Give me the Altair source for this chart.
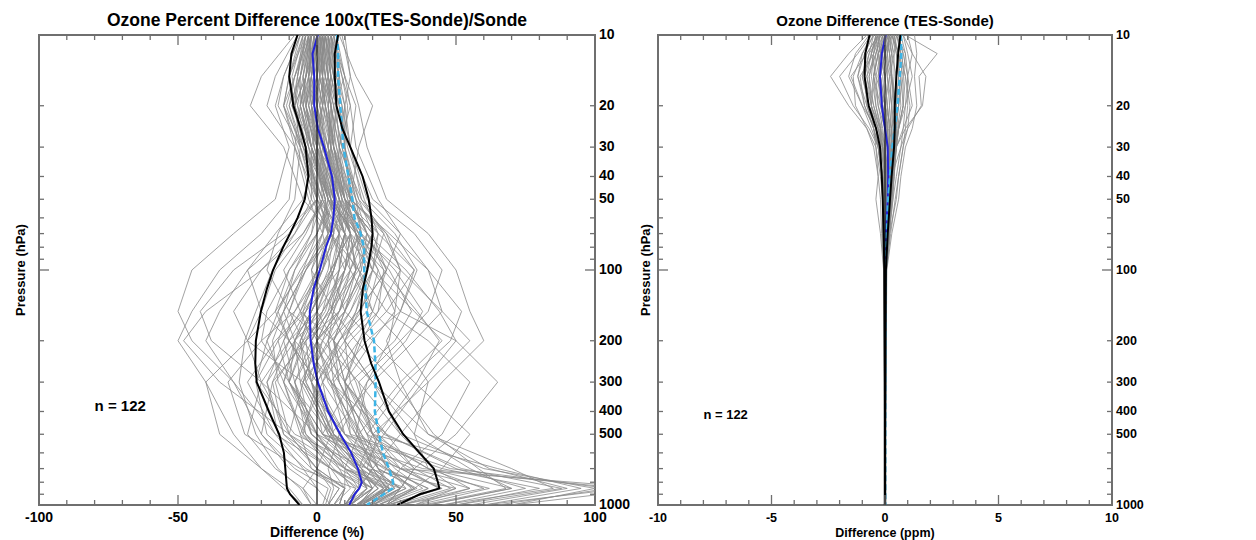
import altair as alt
import pandas as pd

# ---------------- Left panel: percent difference ----------------
PCT_LEVELS = [10, 15, 20, 30, 50, 70, 100, 150, 200, 300, 500, 700, 850, 1000]
PCT_PROFILES = [
    [2, -3, -5, 0, 8, 12, 10, 5, 0, -5, 5, 20, 25, 15],
    [-5, -10, -8, -2, 3, -5, -15, -20, -25, -20, -10, 0, 5, 3],
    [6, 8, 5, 8, 15, 25, 30, 28, 20, 10, 15, 30, 45, 25],
    [-3, -8, -12, -5, 0, -10, -25, -35, -40, -30, -15, -5, 0, 5],
    [10, 12, 10, 12, 20, 35, 45, 40, 30, 15, 20, 40, 60, 30],
    [0, 2, 3, 5, 5, 0, -5, -10, -5, 5, 15, 20, 15, 10],
    [-8, -20, -24, -12, -5, 5, 10, 5, -5, -15, -10, 5, 10, 8],
    [4, 5, 8, 10, 12, 8, 0, -8, -12, -8, 0, 10, 20, 15],
    [-2, -5, -3, 2, 10, 20, 25, 15, 10, 20, 35, 55, 70, 40],
    [3, 0, -2, 0, 2, -2, -10, -18, -20, -10, 5, 15, 18, 12],
    [8, 14, 20, 15, 12, 5, -5, -15, -25, -40, -35, -20, -10, -5],
    [-6, -12, -15, -10, -15, -30, -45, -50, -45, -30, -20, -10, 0, 0],
    [1, -2, -5, -2, 5, 10, 15, 25, 40, 55, 45, 30, 25, 20],
    [5, 10, 12, 8, 10, 15, 20, 30, 50, 65, 50, 35, 30, 25],
    [-4, -6, -8, -5, 2, 8, 5, 0, -5, -10, 0, 25, 40, 30],
    [2, 4, 2, 0, 0, 5, 15, 20, 15, 5, 10, 45, 80, 50],
    [0, -1, 0, 3, 8, 15, 10, 0, -10, -20, -25, -15, -5, 0],
    [-1, -4, -6, -3, 3, 5, 0, -5, 0, 10, 25, 35, 30, 20],
    [7, 10, 6, 4, 6, 10, 8, 5, 10, 20, 30, 60, 100, 70],
    [-7, -15, -18, -8, 0, 10, 20, 35, 45, 30, 15, 10, 10, 8],
    [3, 6, 9, 12, 18, 30, 40, 45, 35, 20, 5, 10, 25, 20],
    [-3, -2, 0, 2, 0, -8, -20, -30, -25, -5, 10, 20, 25, 15],
    [5, 3, 0, 2, 8, 12, 5, -5, -15, -25, -15, 5, 20, 15],
    [-2, -8, -10, -5, 5, 15, 30, 45, 55, 40, 20, 15, 15, 10],
    [1, 2, 4, 6, 10, 20, 18, 10, 0, -5, 5, 30, 55, 35],
    [-5, -7, -5, 0, 12, 25, 35, 25, 15, 10, 20, 25, 20, 10],
    [9, 12, 15, 18, 25, 40, 50, 55, 60, 45, 30, 20, 15, 12],
    [0, -3, -6, -8, -10, -20, -35, -45, -50, -40, -30, -20, -12, -5],
    [-1, 0, 2, 0, -5, -15, -25, -20, -10, 0, 10, 25, 35, 20],
    [4, 7, 10, 10, 15, 20, 15, 5, 0, 5, 25, 50, 75, 45],
    [-4, -10, -12, -8, -3, 2, 5, 10, 20, 35, 55, 45, 35, 25],
    [2, 0, -3, 1, 6, 0, -10, -15, -10, 0, 5, 0, -5, -2],
    [6, 9, 12, 14, 22, 30, 25, 15, 5, -5, -10, 0, 10, 8],
    [-6, -12, -14, -6, 2, -5, -20, -40, -48, -35, -10, 10, 30, 25],
    [0, 1, 3, 7, 12, 18, 25, 20, 10, 0, -5, 5, 15, 10],
    [3, 5, 2, -2, -2, 5, 12, 20, 30, 40, 35, 40, 50, 35],
    [-3, -5, -4, 0, 4, 0, -8, -12, -8, 5, 20, 65, 95, 60],
    [5, 8, 7, 6, 10, 22, 35, 30, 25, 30, 40, 70, 85, 45],
    [-2, -3, -1, 4, 10, 12, 5, -2, -8, -12, -5, 10, 15, 10],
    [1, -4, -8, -4, 0, -12, -30, -42, -38, -20, 0, 15, 22, 15],
    [2, 3, 6, 9, 14, 18, 12, 2, -8, -18, -12, 5, 18, 12],
    [-3, -6, -10, -6, -1, 4, 0, -6, -2, 8, 18, 28, 38, 22],
    [4, 2, -2, -1, 4, 14, 22, 18, 8, -2, 2, 18, 30, 20],
    [0, -4, -8, -6, -8, -14, -18, -10, 2, 15, 30, 42, 55, 30],
    [6, 10, 14, 12, 16, 24, 20, 12, 6, 10, 22, 35, 48, 28],
    [-5, -9, -7, -2, 4, 2, -6, -14, -18, -12, 0, 8, 12, 6],
    [1, 4, 7, 5, 2, -4, -12, -6, 6, 20, 40, 62, 90, 55],
    [3, 1, 0, 4, 9, 16, 28, 38, 32, 18, 8, 4, 6, 4],
    [-2, -6, -9, -4, 1, 8, 14, 8, -4, -16, -20, -8, 4, 2],
    [5, 6, 4, 6, 12, 26, 40, 52, 48, 32, 18, 22, 35, 25],
    [1, -2, -4, 1, 7, 10, 8, 3, -4, -10, 2, 38, 110, 60],
    [-4, -7, -9, -3, 4, 14, 26, 34, 28, 12, 2, 30, 120, 70],
    [3, 6, 4, 5, 9, 6, -4, -12, -18, -22, -8, 18, 50, 30],
    [-1, 2, 5, 8, 16, 28, 36, 30, 18, 6, 12, 48, 105, 65],
    [6, 4, 1, 3, 10, 20, 14, 4, -2, 2, 14, 26, 32, 18],
    [-6, -10, -12, -7, -2, -8, -16, -22, -26, -28, -22, -14, -6, -2],
    [2, 0, -2, 2, 8, 4, -2, 6, 14, 28, 42, 58, 68, 38],
    [0, 3, 5, 4, 6, 12, 24, 36, 44, 36, 22, 18, 24, 16],
    [-3, -1, 1, 5, 12, 24, 30, 22, 12, 2, -6, -2, 10, 6],
    [4, 8, 10, 8, 6, 2, -2, 0, 6, 14, 20, 32, 44, 26],
    [-2, -4, -6, -2, 6, 18, 32, 44, 50, 38, 24, 16, 20, 12],
    [5, 9, 11, 10, 14, 16, 8, -4, -14, -22, -18, -4, 8, 4],
    [-1, -3, -2, 3, 9, 14, 18, 12, 4, -4, 6, 24, 40, 24],
    [2, 5, 3, 1, 4, 10, 6, -2, -6, -2, 10, 34, 62, 36],
    [-4, -8, -11, -6, 0, 6, 2, -8, -20, -32, -26, -6, 14, 10],
    [3, 2, 2, 6, 14, 22, 18, 8, 0, 4, 16, 22, 26, 14],
    [1, 3, 5, 6, 9, 12, 10, 6, 2, -2, 4, 14, 22, 14],
    [-2, -5, -7, -4, 2, 6, 4, -2, -6, -4, 6, 18, 28, 18],
    [3, 4, 6, 9, 13, 16, 12, 6, 4, 8, 16, 26, 34, 22],
    [0, -2, -3, 0, 5, 8, 6, 0, -6, -12, -6, 8, 20, 12],
    [-1, 1, 3, 6, 10, 14, 20, 16, 8, 0, 8, 20, 30, 18],
    [2, -1, -4, -2, 3, 4, -4, -12, -16, -14, -4, 6, 14, 10],
    [4, 6, 8, 11, 17, 22, 20, 14, 10, 12, 20, 30, 44, 26],
    [-3, -4, -6, -3, 0, -2, -8, -14, -10, -2, 8, 14, 18, 12],
    [1, 2, 1, 4, 8, 14, 16, 10, 2, -6, -2, 12, 26, 16],
    [-1, -3, -4, -1, 4, 10, 12, 8, 4, 6, 14, 22, 28, 16],
    [5, 7, 9, 10, 12, 10, 6, 2, -2, 0, 8, 16, 22, 14],
    [-4, -7, -8, -4, 1, 4, 2, -4, -10, -16, -12, 0, 10, 6],
    [2, 4, 5, 7, 11, 18, 24, 22, 16, 10, 12, 22, 36, 22],
    [0, 1, -1, 1, 6, 10, 6, -2, -8, -6, 4, 16, 26, 16],
    [3, 1, -2, 0, 6, 12, 14, 8, 0, -8, -4, 10, 24, 14],
    [-2, -4, -5, -2, 3, 2, -4, -10, -14, -10, 2, 14, 24, 16],
    [1, 0, 2, 5, 10, 16, 22, 28, 26, 18, 14, 20, 30, 18],
    [-3, -6, -6, -2, 4, 8, 8, 4, -2, -8, -2, 14, 32, 20],
    [4, 5, 4, 6, 11, 14, 10, 2, -4, -2, 6, 18, 26, 16],
    [0, -2, -1, 2, 7, 12, 14, 10, 6, 8, 18, 40, 70, 40],
    [2, 2, 3, 5, 8, 8, 2, -6, -12, -18, -14, -2, 8, 4],
    [-1, -2, -4, -1, 5, 12, 18, 14, 8, 2, 6, 16, 20, 12],
    [3, 5, 7, 8, 12, 18, 16, 10, 6, 10, 24, 52, 88, 50],
    [-2, -3, -2, 1, 5, 6, 2, -4, -8, -10, -2, 12, 18, 10],
]
PCT_STAT_LEVELS = [10, 12, 15, 20, 25, 30, 40, 50, 60, 70, 80, 100, 120, 150,
                   200, 250, 300, 400, 500, 600, 700, 800, 850, 900, 1000]
PCT_MEAN = [0.3, -1.6, -1.0, -1.0, 0.3, 2.5, 5.4, 6.4, 5.9, 5.0, 3.2, 1.0, -1.2, -2.6,
            -2.3, -1.2, 0.3, 4.0, 8.4, 12.3, 14.7, 16.1, 15.2, 13.5, 11.6]
PCT_LOW = [-7.0, -9.2, -10.0, -8.5, -5.9, -4.1, -3.1, -4.4, -7.0, -9.7, -12.2, -15.8, -18.0, -20.2,
           -22.0, -22.2, -21.7, -17.3, -13.6, -11.9, -11.4, -11.0, -10.8, -9.7, -6.3]
PCT_HIGH = [7.6, 6.4, 6.4, 7.0, 9.1, 12.0, 16.4, 18.6, 19.6, 20.0, 19.6, 18.1, 16.5, 15.7,
            17.1, 19.5, 22.3, 25.9, 31.0, 36.9, 42.0, 43.5, 44.0, 37.0, 28.9]
PCT_RMS = [7.2, 7.6, 7.6, 8.4, 9.0, 9.5, 11.3, 12.7, 13.5, 15.7, 16.9, 17.0, 17.4, 17.9,
           20.5, 21.0, 21.1, 20.8, 22.3, 23.7, 25.9, 27.4, 27.0, 24.0, 17.9]

# ---------------- Right panel: ppm difference ----------------
PPM_LEVELS = [10, 12, 15, 20, 25, 30, 40, 50, 70, 100, 1000]
PPM_PROFILES = [
    [0.2, -0.3, -0.5, -0.3, 0.0, 0.1, 0.15, 0.1, 0.05, 0.01, 0.0],
    [-0.5, -0.9, -1.2, -0.9, -0.5, -0.3, -0.15, -0.1, -0.05, -0.01, 0.0],
    [0.6, 0.7, 0.5, 0.5, 0.5, 0.5, 0.4, 0.3, 0.12, 0.03, 0.0],
    [-0.3, -0.8, -1.5, -1.0, -0.6, -0.3, -0.1, -0.05, -0.03, -0.01, 0.0],
    [1.0, 1.2, 1.0, 0.9, 0.8, 0.7, 0.5, 0.35, 0.15, 0.04, 0.0],
    [0.0, 0.2, 0.3, 0.4, 0.3, 0.25, 0.2, 0.1, 0.03, 0.0, 0.0],
    [-0.8, -1.6, -2.4, -1.6, -0.8, -0.4, -0.2, -0.1, 0.05, 0.02, 0.0],
    [0.4, 0.5, 0.7, 0.8, 0.6, 0.5, 0.3, 0.2, 0.05, 0.0, 0.0],
    [-0.2, -0.4, -0.5, -0.2, 0.1, 0.15, 0.3, 0.3, 0.15, 0.04, 0.0],
    [0.3, 0.0, -0.2, -0.1, 0.0, 0.0, 0.05, 0.05, 0.0, -0.01, 0.0],
    [0.9, 2.3, 1.5, 1.6, 1.0, 0.7, 0.3, 0.15, 0.05, -0.01, 0.0],
    [-0.6, -1.0, -1.4, -1.3, -0.8, -0.5, -0.3, -0.4, -0.2, -0.06, 0.0],
    [0.1, -0.2, -0.4, -0.3, -0.1, 0.0, 0.1, 0.15, 0.1, 0.02, 0.0],
    [0.5, 0.9, 1.0, 1.2, 0.8, 0.5, 0.35, 0.25, 0.12, 0.03, 0.0],
    [-0.4, -0.5, -0.7, -0.6, -0.3, -0.1, 0.0, 0.05, 0.08, 0.02, 0.0],
    [0.2, 0.3, 0.3, 0.2, 0.1, 0.0, 0.0, 0.02, 0.05, 0.03, 0.0],
    [0.0, -0.1, 0.0, 0.1, 0.2, 0.2, 0.25, 0.2, 0.1, 0.02, 0.0],
    [-0.1, -0.3, -0.5, -0.4, -0.2, -0.1, 0.05, 0.1, 0.05, 0.0, 0.0],
    [0.7, 0.9, 0.8, 0.6, 0.4, 0.3, 0.2, 0.15, 0.08, 0.02, 0.0],
    [-0.7, -1.3, -1.6, -1.0, -0.4, -0.1, 0.1, 0.15, 0.15, 0.05, 0.0],
    [0.3, 0.6, 0.9, 1.1, 1.0, 0.8, 0.6, 0.45, 0.25, 0.06, 0.0],
    [-0.3, -0.2, 0.0, 0.1, 0.05, 0.0, -0.05, -0.1, -0.08, -0.03, 0.0],
    [0.4, 0.3, 0.0, 0.1, 0.2, 0.2, 0.2, 0.15, 0.08, 0.01, 0.0],
    [-0.2, -0.7, -0.9, -0.6, -0.2, 0.0, 0.15, 0.25, 0.2, 0.07, 0.0],
    [0.1, 0.2, 0.3, 0.4, 0.45, 0.4, 0.35, 0.3, 0.15, 0.03, 0.0],
    [-0.4, -0.6, -0.4, 0.0, 0.3, 0.4, 0.4, 0.3, 0.2, 0.05, 0.0],
    [1.3, 1.4, 1.3, 1.4, 1.2, 0.9, 0.7, 0.6, 0.3, 0.08, 0.0],
    [0.0, -0.3, -0.5, -0.6, -0.5, -0.4, -0.3, -0.2, -0.15, -0.05, 0.0],
    [-0.1, 0.0, 0.2, 0.0, -0.2, -0.2, -0.15, -0.1, -0.1, -0.04, 0.0],
    [0.3, 0.6, 0.8, 0.8, 0.6, 0.5, 0.35, 0.25, 0.1, 0.02, 0.0],
    [-0.3, -0.8, -1.0, -0.7, -0.4, -0.3, -0.1, 0.0, 0.02, 0.01, 0.0],
    [0.2, 0.0, -0.2, 0.0, 0.1, 0.1, 0.15, 0.0, -0.05, -0.02, 0.0],
    [0.5, 0.8, 1.0, 1.0, 0.9, 0.8, 0.6, 0.5, 0.2, 0.05, 0.0],
    [-0.5, -1.0, -1.2, -0.8, -0.4, -0.2, 0.0, -0.1, -0.1, -0.04, 0.0],
    [0.0, 0.1, 0.25, 0.5, 0.6, 0.5, 0.4, 0.35, 0.2, 0.05, 0.0],
    [0.8, 1.2, 1.8, 1.65, 0.9, 0.5, 0.3, 0.2, 0.1, 0.02, 0.0],
    [0.1, 0.3, 0.5, 0.6, 0.5, 0.45, 0.35, 0.2, 0.1, 0.02, 0.0],
    [-0.2, -0.4, -0.8, -0.5, -0.2, -0.05, 0.05, 0.08, 0.05, 0.01, 0.0],
    [0.5, 0.4, 0.2, 0.3, 0.4, 0.35, 0.25, 0.2, 0.1, 0.02, 0.0],
    [-0.6, -1.2, -2.0, -1.4, -0.7, -0.3, -0.1, 0.0, 0.0, 0.0, 0.0],
    [0.2, 0.1, 0.1, 0.3, 0.3, 0.3, 0.2, 0.12, 0.06, 0.01, 0.0],
    [-0.1, -0.2, -0.3, -0.1, 0.1, 0.2, 0.2, 0.15, 0.05, 0.01, 0.0],
    [0.8, 1.0, 1.2, 0.9, 0.6, 0.4, 0.25, 0.15, 0.06, 0.01, 0.0],
    [-0.4, -0.6, -0.9, -0.8, -0.5, -0.3, -0.15, -0.05, 0.0, 0.0, 0.0],
    [0.0, 0.0, 0.1, 0.2, 0.25, 0.3, 0.3, 0.25, 0.15, 0.03, 0.0],
    [0.3, 0.5, 0.6, 0.5, 0.3, 0.15, 0.1, 0.05, 0.02, 0.0, 0.0],
    [0.1, -0.1, -0.2, -0.1, 0.05, 0.1, 0.12, 0.1, 0.05, 0.01, 0.0],
    [-0.3, -0.5, -0.6, -0.4, -0.15, 0.0, 0.08, 0.08, 0.04, 0.01, 0.0],
    [0.4, 0.6, 0.6, 0.7, 0.55, 0.45, 0.3, 0.2, 0.08, 0.02, 0.0],
    [-0.1, -0.4, -0.7, -0.5, -0.25, -0.1, 0.0, 0.05, 0.03, 0.01, 0.0],
    [0.2, 0.4, 0.4, 0.3, 0.2, 0.15, 0.15, 0.12, 0.06, 0.01, 0.0],
    [-0.5, -0.7, -1.0, -0.7, -0.3, -0.15, -0.05, 0.0, 0.02, 0.0, 0.0],
    [0.6, 0.8, 0.7, 0.6, 0.45, 0.35, 0.25, 0.18, 0.08, 0.02, 0.0],
    [0.0, -0.2, -0.3, -0.2, 0.0, 0.1, 0.15, 0.12, 0.06, 0.01, 0.0],
    [0.2, 0.1, -0.1, 0.0, 0.15, 0.25, 0.25, 0.2, 0.1, 0.02, 0.0],
    [-0.2, -0.5, -1.1, -0.9, -0.5, -0.25, -0.1, -0.05, 0.0, 0.0, 0.0],
    [0.5, 0.7, 0.9, 0.8, 0.6, 0.45, 0.3, 0.2, 0.1, 0.02, 0.0],
    [-0.4, -0.3, -0.2, 0.0, 0.1, 0.1, 0.1, 0.08, 0.04, 0.01, 0.0],
    [0.3, 0.2, 0.3, 0.5, 0.5, 0.4, 0.3, 0.2, 0.1, 0.02, 0.0],
    [-0.3, -0.6, -0.8, -0.6, -0.3, -0.1, 0.0, 0.02, 0.02, 0.0, 0.0],
]
PPM_STAT_LEVELS = [10, 12, 15, 20, 25, 30, 40, 50, 70, 100, 150, 200, 300, 500, 1000]
PPM_MEAN = [0.03, -0.14, -0.22, -0.14, 0.0, 0.12, 0.14, 0.12, 0.04, 0.0, 0.0, 0.0, 0.0, 0.0, 0.0]
PPM_LOW = [-0.68, -0.87, -0.9, -0.72, -0.39, -0.22, -0.14, -0.1, -0.06, -0.03, -0.02, -0.015, -0.01, -0.01, -0.01]
PPM_HIGH = [0.68, 0.58, 0.5, 0.43, 0.43, 0.4, 0.29, 0.22, 0.12, 0.04, 0.03, 0.02, 0.015, 0.01, 0.01]
PPM_RMS = [0.7, 0.72, 0.65, 0.55, 0.43, 0.32, 0.22, 0.14, 0.07, 0.03, 0.02, 0.015, 0.01, 0.01, 0.01]

# ---------------- Axis tick lists ----------------
PRESSURE_LABELS = [10, 20, 30, 40, 50, 100, 200, 300, 400, 500, 1000]
P_MINOR_TICKS = [20, 30, 40, 50, 60, 70, 80, 90, 200, 300, 400, 500, 600, 700, 800, 900]
P_MAJOR_TICKS = [100]
PCT_X_LABELS = [-100, -50, 0, 50, 100]
PCT_X_MINOR = [-90, -80, -70, -60, -40, -30, -20, -10, 10, 20, 30, 40, 60, 70, 80, 90]
PCT_X_MAJOR = [-50, 0, 50]
PPM_X_LABELS = [-10, -5, 0, 5, 10]
PPM_X_MINOR = [-9, -8, -7, -6, -4, -3, -2, -1, 1, 2, 3, 4, 6, 7, 8, 9]
PPM_X_MAJOR = [-5, 0, 5]
N_PROFILES = 122

FONT = "Liberation Sans"
FRAME = "#6f6f6f"


def panel(levels, profiles, stat_levels, mean, low, high, rms, xdom, xlabels,
          xminor, xmajor, title, xtitle, width, height, ytitle_dx,
          n_x, n_p, fs):
    xs = alt.Scale(domain=xdom, nice=False, zero=False)
    ys = alt.Scale(type="log", domain=[10, 1000], reverse=True, nice=False)

    def X(field="v"):
        return alt.X(field + ":Q", scale=xs, axis=None)

    def Y(field="p"):
        return alt.Y(field + ":Q", scale=ys, axis=None)

    gray_rows = []
    for i, prof in enumerate(profiles):
        for j, (p, v) in enumerate(zip(levels, prof)):
            gray_rows.append({"id": i, "k": j, "p": p, "v": v})
    gray = alt.Chart(pd.DataFrame(gray_rows)).mark_line(
        color="#8a8a8a", strokeWidth=0.8, clip=True
    ).encode(x=X(), y=Y(), detail="id:N", order="k:Q")

    def stat_line(vals, color, width_, dash=None):
        df = pd.DataFrame({"p": stat_levels, "v": vals, "k": list(range(len(vals)))})
        kw = dict(color=color, strokeWidth=width_, clip=True)
        if dash:
            kw["strokeDash"] = dash
        return alt.Chart(df).mark_line(**kw).encode(x=X(), y=Y(), order="k:Q")

    zero = alt.Chart(pd.DataFrame({"v": [0, 0], "p": [10, 1000], "k": [0, 1]})).mark_line(
        color="black", strokeWidth=1
    ).encode(x=X(), y=Y(), order="k:Q")

    ntext = alt.Chart(pd.DataFrame({"v": [n_x], "p": [n_p], "t": ["n =  %d" % N_PROFILES]})).mark_text(
        align="left", baseline="middle", font=FONT, fontSize=fs["n"], fontWeight="bold", color="black"
    ).encode(x=X(), y=Y(), text="t:N")

    def xticks(vals, length, top):
        if top:
            y1, y2 = alt.value(0), alt.value(length)
        else:
            y1, y2 = alt.value(height), alt.value(height - length)
        return alt.Chart(pd.DataFrame({"v": vals})).mark_rule(color=FRAME, strokeWidth=1.3).encode(
            x=X(), y=y1, y2=y2)

    def yticks(vals, length, right):
        if right:
            x1, x2 = alt.value(width), alt.value(width - length)
        else:
            x1, x2 = alt.value(0), alt.value(length)
        return alt.Chart(pd.DataFrame({"p": vals})).mark_rule(color=FRAME, strokeWidth=1.3).encode(
            y=Y(), x=x1, x2=x2)

    # tick labels and axis titles (real text, positioned by the scales)
    xlab = alt.Chart(pd.DataFrame({"v": xlabels, "t": [str(v) for v in xlabels]})).mark_text(
        align="center", baseline="middle", font=FONT, fontSize=fs["tick"], fontWeight="bold", color="black"
    ).encode(x=X(), y=alt.value(height + 13), text="t:N")
    ylab = alt.Chart(pd.DataFrame({"p": PRESSURE_LABELS, "t": [str(v) for v in PRESSURE_LABELS]})).mark_text(
        align="left", baseline="middle", font=FONT, fontSize=fs["tick"], fontWeight="bold", color="black"
    ).encode(y=Y(), x=alt.value(width + 4), text="t:N")
    xttl = alt.Chart(pd.DataFrame({"t": [xtitle]})).mark_text(
        align="center", baseline="middle", font=FONT, fontSize=fs["xtitle"], fontWeight="bold", color="black"
    ).encode(x=alt.value(width / 2), y=alt.value(height + 28), text="t:N")
    yttl = alt.Chart(pd.DataFrame({"t": ["Pressure (hPa)"]})).mark_text(
        align="center", baseline="middle", angle=270, font=FONT, fontSize=fs["ytitle"],
        fontWeight="bold", color="black"
    ).encode(x=alt.value(-ytitle_dx), y=alt.value(height / 2), text="t:N")

    layers = [
        gray,
        stat_line(mean, "#2222d6", 2),
        stat_line(rms, "#3cb4e6", 2.5, [6, 3]),
        zero,
        stat_line(low, "black", 2),
        stat_line(high, "black", 2),
        ntext,
        xticks(xminor, 5, False), xticks(xmajor, 10, False),
        xticks(xminor, 5, True), xticks(xmajor, 10, True),
        yticks(P_MINOR_TICKS, 5, False), yticks(P_MAJOR_TICKS, 10, False),
        yticks(P_MINOR_TICKS, 5, True), yticks(P_MAJOR_TICKS, 10, True),
        xlab, ylab, xttl, yttl,
    ]
    return alt.layer(*layers).properties(
        width=width, height=height,
        title=alt.TitleParams(title, font=FONT, fontSize=fs["title"], fontWeight="bold",
                              color="black", anchor="middle", offset=fs["toff"]),
    )


left = panel(PCT_LEVELS, PCT_PROFILES, PCT_STAT_LEVELS, PCT_MEAN, PCT_LOW, PCT_HIGH, PCT_RMS,
             [-100, 100], PCT_X_LABELS, PCT_X_MINOR, PCT_X_MAJOR,
             "Ozone Percent Difference 100x(TES-Sonde)/Sonde", "Difference (%)",
             556, 470, 18, -80, 380,
             {"tick": 14, "n": 15, "xtitle": 14, "ytitle": 13, "title": 17.5, "toff": -1})
right = panel(PPM_LEVELS, PPM_PROFILES, PPM_STAT_LEVELS, PPM_MEAN, PPM_LOW, PPM_HIGH, PPM_RMS,
              [-10, 10], PPM_X_LABELS, PPM_X_MINOR, PPM_X_MAJOR,
              "Ozone Difference (TES-Sonde)", "Difference (ppm)",
              454, 470, 12, -8, 415,
              {"tick": 12.5, "n": 13, "xtitle": 12.5, "ytitle": 13, "title": 15, "toff": 0})

chart = alt.hconcat(left, right, spacing=63, bounds="flush").properties(
    padding={"left": 14, "top": 10, "right": 5, "bottom": 5},
    background="white",
).configure_view(stroke=FRAME, strokeWidth=2)

chart.save("out.html", embed_options={"renderer": "svg", "actions": False})
